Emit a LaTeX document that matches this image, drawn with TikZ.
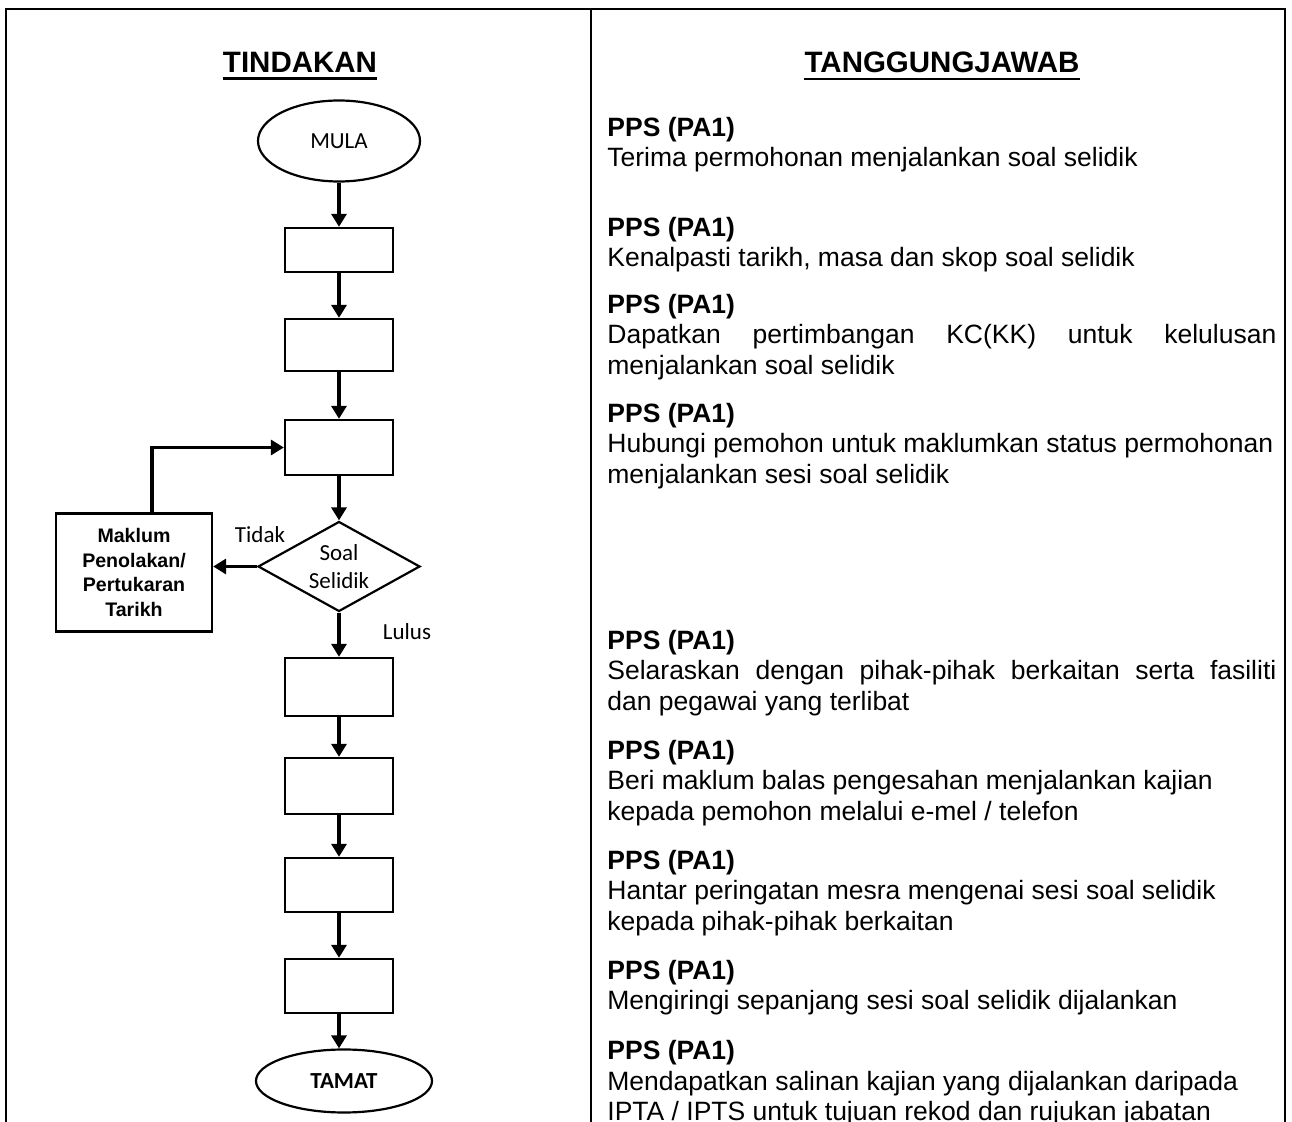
\documentclass[tikz,border=0pt]{standalone}
\usepackage{fontspec}
\setmainfont{Liberation Sans}
\newfontfamily\calibri{Carlito}
\usetikzlibrary{arrows.meta,positioning,shapes.geometric}

\newcommand\descfont{\fontsize{13.25}{15.25}\selectfont\hyphenpenalty=10000}
\newcommand\flowfont{\calibri\fontsize{11.5}{14}\selectfont}

\begin{document}
\begin{tikzpicture}[x=0.5pt,y=-0.5pt,
  frame/.style={line width=1pt},
  title/.style={font=\bfseries\fontsize{14.75}{17}\selectfont,inner sep=0pt},
  terminal/.style={ellipse,draw,line width=1.1pt,inner sep=0pt,font=\flowfont},
  process/.style={rectangle,draw,line width=1.15pt,minimum width=54pt},
  decision/.style={diamond,draw,line width=1.1pt,aspect=1.8,inner sep=0pt,minimum width=81pt,minimum height=45pt,font=\flowfont,align=center},
  notice/.style={rectangle,draw,line width=1.15pt,minimum width=78pt,minimum height=59pt,align=center,font=\bfseries\fontsize{9.8}{12.4}\selectfont},
  branch/.style={font=\flowfont,inner sep=0pt},
  duty/.style={anchor=base west,inner sep=0pt,text width=334.5pt,align=justify,font=\descfont},
  arrow/.style={-{Triangle[length=6.5pt,width=7.5pt]},line width=1.8pt}
]
  \useasboundingbox (0,0) rectangle (1292,1122);

  % table lines
  \draw[frame] (6,1122) |- (1285,9) -- (1285,1122);
  \draw[frame] (591,9) -- (591,1122);

  % column heads
  \node[title] (tindakan) at (300,62) {TINDAKAN};
  \node[title] (tanggung) at (942,62) {TANGGUNGJAWAB};
  \draw[line width=1.25pt] ([yshift=-3pt]tindakan.south west) -- ([yshift=-3pt]tindakan.south east);
  \draw[line width=1.25pt] ([yshift=-3pt]tanggung.south west) -- ([yshift=-3pt]tanggung.south east);

  % flow chart
  \node[terminal,minimum width=81pt,minimum height=40.5pt] (mula) at (339,141) {MULA};
  \node[process,minimum height=22pt] (b1) at (339,250) {};
  \node[process,minimum height=26pt] (b2) at (339,345) {};
  \node[process,minimum height=27.5pt] (b3) at (339,447.5) {};
  \node[decision] (soal) at (339,566.5) {Soal\\Selidik};
  \node[notice] (maklum) at (134,572.5) {Maklum\\Penolakan/\\Pertukaran\\Tarikh};
  \node[process,minimum height=29pt] (b4) at (339,687) {};
  \node[process,minimum height=28pt] (b5) at (339,786) {};
  \node[process,minimum height=27pt] (b6) at (339,885) {};
  \node[process,minimum height=27pt] (b7) at (339,986) {};
  \node[terminal,minimum width=88pt,minimum height=31.5pt,font=\flowfont\bfseries] (tamat) at (344,1081) {TAMAT};

  \node[branch] (tidak) at (260,535) {Tidak};
  \node[branch] (lulus) at (407,632) {Lulus};

  \draw[arrow] (mula) -- (b1);
  \draw[arrow] (b1) -- (b2);
  \draw[arrow] (b2) -- (b3);
  \draw[arrow] (b3) -- (soal);
  \draw[arrow] (soal) -- (b4);
  \draw[arrow] (b4) -- (b5);
  \draw[arrow] (b5) -- (b6);
  \draw[arrow] (b6) -- (b7);
  \draw[arrow] (b7) -- (b7 |- tamat.north);
  \draw[arrow] (soal) -- (soal -| maklum.east);
  \draw[arrow] ([xshift=9pt]maklum.north) |- (b3);

  % responsibilities
  \node[duty] (r1) at (607,136.5) {\textbf{PPS (PA1)}\\Terima permohonan menjalankan soal selidik};
  \node[duty] (r2) at (607,236.5) {\textbf{PPS (PA1)}\\Kenalpasti tarikh, masa dan skop soal selidik};
  \node[duty] (r3) at (607,313.5) {\textbf{PPS (PA1)}\\Dapatkan pertimbangan KC(KK) untuk kelulusan\linebreak menjalankan soal selidik};
  \node[duty] (r4) at (607,422.5) {\textbf{PPS (PA1)}\\Hubungi pemohon untuk maklumkan status permohonan\\menjalankan sesi soal selidik};
  \node[duty] (r5) at (607,649.5) {\textbf{PPS (PA1)}\\Selaraskan dengan pihak-pihak berkaitan serta fasiliti\linebreak dan pegawai yang terlibat};
  \node[duty] (r6) at (607,759.5) {\textbf{PPS (PA1)}\\Beri maklum balas pengesahan menjalankan kajian\\kepada pemohon melalui e-mel / telefon};
  \node[duty] (r7) at (607,869.5) {\textbf{PPS (PA1)}\\Hantar peringatan mesra mengenai sesi soal selidik\\kepada pihak-pihak berkaitan};
  \node[duty] (r8) at (607,979.5) {\textbf{PPS (PA1)}\\Mengiringi sepanjang sesi soal selidik dijalankan};
  \node[duty] (r9) at (607,1059.5) {\textbf{PPS (PA1)}\\Mendapatkan salinan kajian yang dijalankan daripada\\IPTA / IPTS untuk tujuan rekod dan rujukan jabatan};
\end{tikzpicture}
\end{document}
